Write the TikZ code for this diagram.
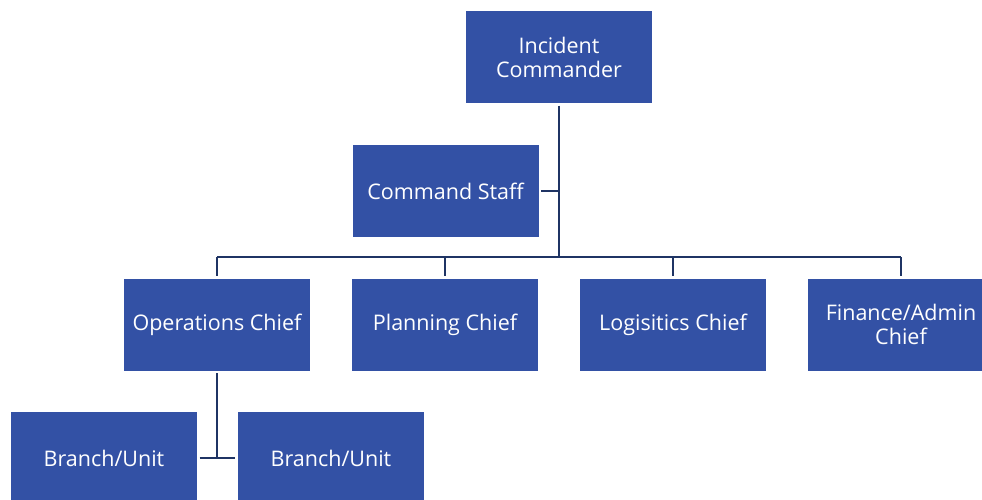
\documentclass[tikz,border=0pt]{standalone}
\usepackage{fontspec}
\setmainfont{Open Sans}
\definecolor{boxblue}{RGB}{51,81,165}
\definecolor{linenavy}{RGB}{31,52,100}
\begin{document}
\begin{tikzpicture}[x=1pt,y=1pt,
  orgbox/.style={fill=boxblue, draw=none, minimum width=186pt, minimum height=92pt,
    inner sep=2pt, text=white, align=center, font=\fontsize{21.5}{24}\selectfont},
  link/.style={draw=linenavy, line width=2pt}]
\useasboundingbox (0,0) rectangle (982,-500);
\clip (0,0) rectangle (982,-500);
\node[orgbox] (ic) at (559,-57) {Incident\\Commander};
\node[orgbox] (cs) at (445.5,-191) {Command Staff};
\node[orgbox] (ops) at (217,-324.5) {Operations Chief};
\node[orgbox] (plan) at (445,-324.5) {Planning Chief};
\node[orgbox] (log) at (673,-324.5) {Logisitics Chief};
\node[orgbox] (fin) at (901,-324.5) {Finance/Admin\\Chief};
\node[orgbox] (b1) at (104,-458) {Branch/Unit};
\node[orgbox] (b2) at (331,-458) {Branch/Unit};
\coordinate (hub) at (559,-257);
\coordinate (csj) at (559,-191);
\coordinate (hl) at (217,-257);
\coordinate (hr) at (901,-257);
\coordinate (bj) at (217,-458);
\draw[link, shorten <=2.5pt] (ic.south) -- (hub);
\draw[link, shorten <=2.5pt] (cs.east) -- (csj);
\draw[link] (hl) -- (hr);
\draw[link, shorten >=2.5pt] (hl) -- (ops.north);
\draw[link, shorten >=2.5pt] (hub -| plan.north) -- (plan.north);
\draw[link, shorten >=2.5pt] (hub -| log.north) -- (log.north);
\draw[link, shorten >=2.5pt] (hr) -- (fin.north);
\draw[link, shorten <=2.5pt] (ops.south) -- (bj);
\draw[link, shorten <=2.5pt, shorten >=2.5pt] (b1.east) -- (b2.west);
\end{tikzpicture}
\end{document}
